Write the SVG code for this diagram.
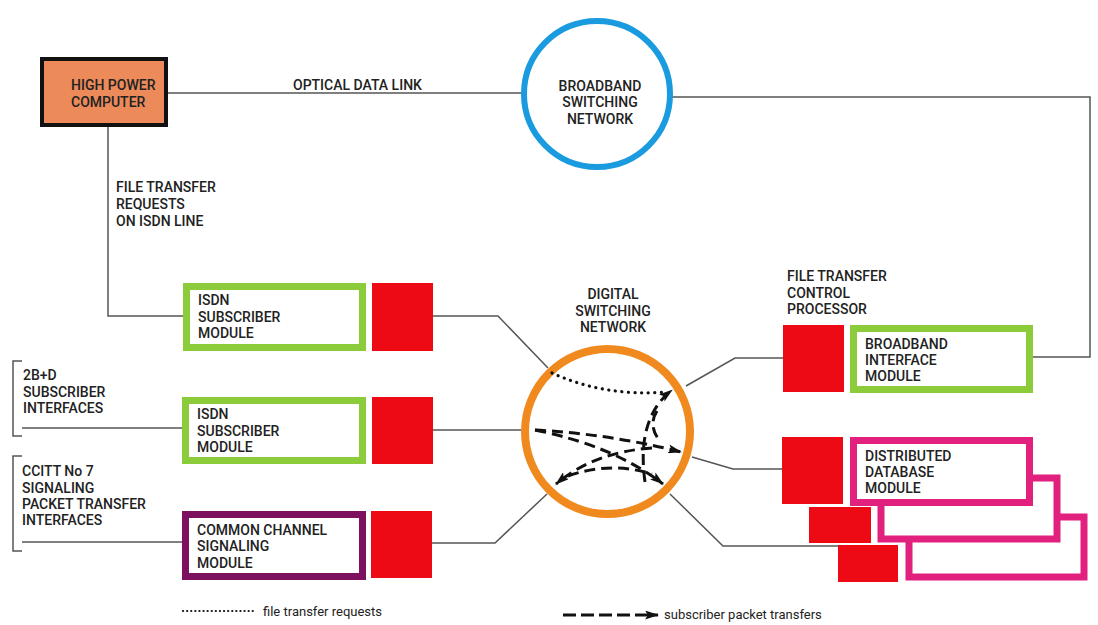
<svg xmlns="http://www.w3.org/2000/svg" width="1098" height="625" viewBox="0 0 1098 625">
<defs>
<style>
text{font-family:Roboto,"Liberation Sans",sans-serif;font-weight:500;font-size:14px;fill:#222}
.ln{fill:none;stroke:#555;stroke-width:1.5}
.green{fill:#fff;stroke:#8ccc3a;stroke-width:7}
.purple{fill:#fff;stroke:#7d1160;stroke-width:7}
.pink{fill:#fff;stroke:#e2207e;stroke-width:7}
.red{fill:#ee0a14}
.dash{fill:none;stroke:#111;stroke-width:3;stroke-dasharray:11 6}
.dot{fill:none;stroke:#111;stroke-width:3.2;stroke-dasharray:0.1 6.5;stroke-linecap:round}
.leg{font-size:13px;font-weight:normal}
</style>
<marker id="ah" viewBox="0 0 14 9" refX="13" refY="4.5" markerWidth="14" markerHeight="9" markerUnits="userSpaceOnUse" orient="auto">
<path d="M0,0 L14,4.5 L0,9 L3,4.5 Z" fill="#111"/>
</marker>
</defs>

<g id="connectors">
<path class="ln" d="M168,93 H522"/>
<path class="ln" d="M672,97 H1090 V357 H1033"/>
<path class="ln" d="M108,127 V316 H183"/>
<path class="ln" d="M433,316 H498 L548,368"/>
<path class="ln" d="M433,430 H521"/>
<path class="ln" d="M432,543 H495 L547,494"/>
<path class="ln" d="M686,386 L735,358 H783"/>
<path class="ln" d="M692,457 L733,469 H782"/>
<path class="ln" d="M670,494 L723,546 H838"/>
<path class="ln" d="M22,428 H182"/>
<path class="ln" d="M22,542 H182"/>
<path class="ln" d="M22,361 H13 V436 H22"/>
<path class="ln" d="M22,456 H13 V551 H22"/>
</g>

<g id="high-power-computer">
<rect x="42" y="59" width="124" height="66" fill="#ec8a5a" stroke="#111" stroke-width="4"/>
<text x="71" y="90">HIGH POWER</text>
<text x="71" y="107">COMPUTER</text>
</g>

<g id="broadband-switching-network">
<circle cx="597" cy="94" r="73" fill="#fff" stroke="#1a9be0" stroke-width="6"/>
<text x="600" y="91" text-anchor="middle">BROADBAND</text>
<text x="600" y="107" text-anchor="middle">SWITCHING</text>
<text x="600" y="124" text-anchor="middle">NETWORK</text>
</g>

<g id="labels">
<text x="293" y="90">OPTICAL DATA LINK</text>
<text x="116" y="192">FILE TRANSFER</text>
<text x="116" y="209">REQUESTS</text>
<text x="116" y="226">ON ISDN LINE</text>
<text x="23" y="380">2B+D</text>
<text x="23" y="397">SUBSCRIBER</text>
<text x="23" y="413">INTERFACES</text>
<text x="22" y="476">CCITT No 7</text>
<text x="22" y="493">SIGNALING</text>
<text x="22" y="509">PACKET TRANSFER</text>
<text x="22" y="525">INTERFACES</text>
<text x="787" y="281">FILE TRANSFER</text>
<text x="787" y="298">CONTROL</text>
<text x="787" y="314">PROCESSOR</text>
</g>

<g id="isdn-module-1">
<rect class="green" x="186.5" y="286.5" width="176" height="61"/>
<rect class="red" x="372" y="283" width="61" height="68"/>
<text x="198" y="305">ISDN</text>
<text x="198" y="322">SUBSCRIBER</text>
<text x="198" y="338">MODULE</text>
</g>

<g id="isdn-module-2">
<rect class="green" x="185.5" y="400.5" width="177" height="60"/>
<rect class="red" x="372" y="397" width="61" height="67"/>
<text x="197" y="419">ISDN</text>
<text x="197" y="436">SUBSCRIBER</text>
<text x="197" y="452">MODULE</text>
</g>

<g id="common-channel-signaling-module">
<rect class="purple" x="185.5" y="514.5" width="177" height="62"/>
<rect class="red" x="371" y="511" width="61" height="67"/>
<text x="197" y="535">COMMON CHANNEL</text>
<text x="197" y="551">SIGNALING</text>
<text x="197" y="568">MODULE</text>
</g>

<g id="digital-switching-network">
<text x="613" y="299" text-anchor="middle">DIGITAL</text>
<text x="613" y="316" text-anchor="middle">SWITCHING</text>
<text x="613" y="332" text-anchor="middle">NETWORK</text>
<circle cx="607.5" cy="431.5" r="82.5" fill="#fff" stroke="#f08a1e" stroke-width="8"/>
<path class="dot" d="M552,373 Q605,397 666,392"/>
<path class="dash" d="M645,482 Q636,418 672,390" marker-end="url(#ah)"/>
<path class="dash" d="M657,411 Q648,425 659,440"/>
<path class="dash" d="M535,430 Q610,434 681,452" marker-end="url(#ah)"/>
<path class="dash" d="M535,430 Q614,446 663,484" marker-end="url(#ah)"/>
<path class="dash" d="M652,448 Q594,452 556,484" marker-end="url(#ah)"/>
<path class="dash" d="M568,476 Q610,461 652,474"/>
</g>

<g id="broadband-interface-module">
<rect class="red" x="783" y="325" width="61" height="67"/>
<rect class="green" x="853.5" y="328.5" width="176" height="61"/>
<text x="865" y="349">BROADBAND</text>
<text x="865" y="365">INTERFACE</text>
<text x="865" y="381">MODULE</text>
</g>

<g id="distributed-database-module">
<rect class="pink" x="909" y="517" width="175" height="60"/>
<rect class="red" x="838" y="545" width="60" height="37"/>
<rect class="pink" x="881" y="478" width="176" height="61"/>
<rect class="red" x="809" y="507" width="62" height="36"/>
<rect class="pink" x="853.5" y="440.5" width="176" height="62"/>
<rect class="red" x="782" y="437" width="61" height="67"/>
<text x="865" y="461">DISTRIBUTED</text>
<text x="865" y="477">DATABASE</text>
<text x="865" y="493">MODULE</text>
</g>

<g id="legend">
<path class="dot" d="M183,611 H256" style="stroke-width:2.2;stroke-dasharray:0.1 4"/>
<text class="leg" x="263" y="616">file transfer requests</text>
<path class="dash" d="M563,615 H658" style="stroke-dasharray:13 5" marker-end="url(#ah)"/>
<text class="leg" x="664" y="619">subscriber packet transfers</text>
</g>
</svg>
